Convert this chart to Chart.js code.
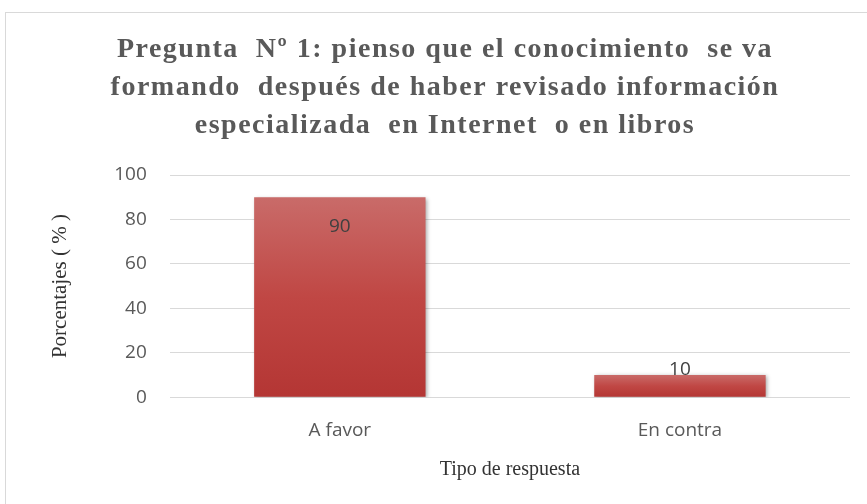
<!DOCTYPE html>
<html>
<head>
<meta charset="utf-8">
<script src="https://cdn.jsdelivr.net/npm/chart.js@4"></script>
<style>
html,body{margin:0;padding:0;background:#fff;}
#wrap{position:relative;width:867px;height:504px;overflow:hidden;}
#frame{position:absolute;left:5px;top:12px;width:870px;height:500px;border:1px solid #D9D9D9;box-sizing:border-box;}
canvas{position:absolute;left:0;top:0;}
</style>
</head>
<body>
<div id="wrap">
<div id="frame"></div>
<canvas id="c" width="867" height="504"></canvas>
</div>
<script>
const categories = ["A favor", "En contra"];
const values = [90, 10];
const yTicks = [0, 20, 40, 60, 80, 100];
const titleLines = ["Pregunta  N\u00BA 1: pienso que el conocimiento  se va", "formando  despu\u00E9s de haber revisado informaci\u00F3n", "especializada  en Internet  o en libros"];
const yTitle = "Porcentajes ( % )";
const xTitle = "Tipo de respuesta";

const TITLE_SIZE = 28, TITLE_LH = 38;

const labelPlugin = {
  id: 'barLabels',
  beforeDatasetDraw(chart) {
    const ctx = chart.ctx;
    ctx.save();
    ctx.shadowColor = 'rgba(0,0,0,0.35)';
    ctx.shadowBlur = 4;
    ctx.shadowOffsetX = 1.5;
    ctx.shadowOffsetY = 1.5;
  },
  afterDatasetDraw(chart) {
    chart.ctx.restore();
  },
  afterDatasetsDraw(chart) {
    const ctx = chart.ctx;
    const meta = chart.getDatasetMeta(0);
    ctx.save();
    ctx.font = '19px "Open Sans"';
    ctx.fillStyle = '#404040';
    ctx.textAlign = 'center';
    ctx.textBaseline = 'middle';
    meta.data.forEach((bar, i) => {
      const h = bar.base - bar.y;
      const y = h > 50 ? bar.y + 29 : bar.y - 5;
      ctx.fillText(String(values[i]), bar.x, y);
    });
    ctx.restore();
  },
  afterDraw(chart) {
    const ctx = chart.ctx;
    const tb = chart.titleBlock;
    ctx.save();
    ctx.font = 'bold ' + TITLE_SIZE + 'px "Liberation Serif"';
    ctx.fillStyle = '#595959';
    ctx.textAlign = 'center';
    ctx.textBaseline = 'middle';
    if ('letterSpacing' in ctx) ctx.letterSpacing = '1.5px';
    const cx = (tb.left + tb.right) / 2 - 4;
    const top = tb.top + tb.options.padding.top;
    titleLines.forEach((t, i) => {
      ctx.fillText(t, cx, top + TITLE_LH * i + TITLE_LH / 2);
    });
    ctx.restore();
  }
};

new Chart(document.getElementById('c'), {
  type: 'bar',
  data: {
    labels: categories,
    datasets: [{
      data: values,
      backgroundColor(context) {
        const chart = context.chart;
        const ys = chart.scales.y;
        if (!ys || !chart.chartArea) return '#C0504D';
        const v = context.raw;
        const top = ys.getPixelForValue(v);
        const bottom = ys.getPixelForValue(0);
        if (!isFinite(top) || !isFinite(bottom) || top === bottom) return '#C0504D';
        const g = chart.ctx.createLinearGradient(0, top, 0, bottom);
        g.addColorStop(0, '#C96B69');
        g.addColorStop(0.5, '#C04744');
        g.addColorStop(1, '#B43634');
        return g;
      },
      borderWidth: 0,
      categoryPercentage: 1,
      barPercentage: 0.504
    }]
  },
  options: {
    responsive: false,
    animation: false,
    devicePixelRatio: 1,
    layout: { padding: { left: 48, right: 17, top: 0, bottom: 22 } },
    plugins: {
      legend: { display: false },
      tooltip: { enabled: false },
      title: {
        display: true,
        text: titleLines,
        color: 'rgba(0,0,0,0)',
        font: { family: '"Liberation Serif"', size: TITLE_SIZE, weight: 'bold', lineHeight: TITLE_LH / TITLE_SIZE },
        padding: { top: 31, bottom: 30 }
      }
    },
    scales: {
      x: {
        grid: { display: false, drawTicks: false },
        border: { display: false },
        ticks: { color: '#595959', font: { family: '"Open Sans"', size: 19 }, padding: 22 },
        title: { display: true, text: xTitle, color: '#333333', font: { family: '"Liberation Serif"', size: 20 }, padding: { top: -6, bottom: 0 } }
      },
      y: {
        min: 0, max: 100,
        afterBuildTicks(scale) { scale.ticks = yTicks.map(v => ({ value: v })); },
        grid: { color: '#D9D9D9', lineWidth: 1, drawTicks: false },
        border: { display: false },
        ticks: { color: '#595959', font: { family: '"Open Sans"', size: 19 }, padding: 23 },
        title: { display: true, text: yTitle, color: '#333333', font: { family: '"Liberation Serif"', size: 21 }, padding: { top: 0, bottom: 18 } }
      }
    }
  },
  plugins: [labelPlugin]
});
</script>
</body>
</html>
